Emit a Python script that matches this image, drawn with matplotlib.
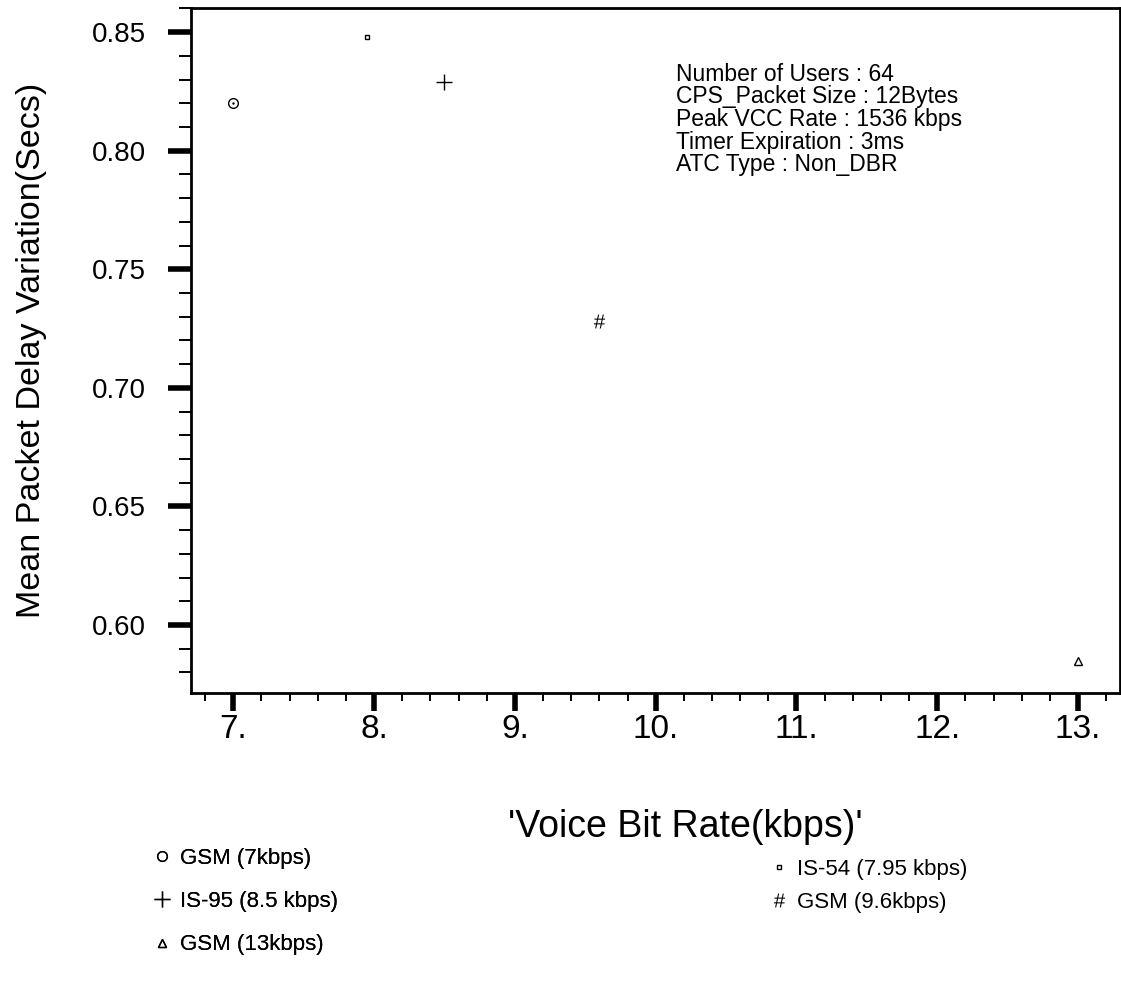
import matplotlib.pyplot as plt
from matplotlib.ticker import MultipleLocator, FormatStrFormatter

plt.rcParams['font.family'] = ['Liberation Sans', 'DejaVu Sans']
plt.rcParams['mathtext.fontset'] = 'custom'
plt.rcParams['mathtext.rm'] = 'Liberation Sans'

# codec data: voice bit rate (kbps) vs mean packet delay variation (secs)
labels = ["GSM (7kbps)", "IS-54 (7.95 kbps)", "IS-95 (8.5 kbps)", "GSM (9.6kbps)", "GSM (13kbps)"]
bit_rate = [7.0, 7.95, 8.5, 9.6, 13.0]
delay_var = [0.820, 0.848, 0.829, 0.728, 0.585]
markers = ["o", "s", "+", r"$\#$", "^"]
msizes = [7, 3.5, 11, 10, 6]

info = ["Number of Users : 64", "CPS_Packet Size : 12Bytes", "Peak VCC Rate : 1536 kbps",
        "Timer Expiration : 3ms", "ATC Type : Non_DBR"]

fig = plt.figure(figsize=(11.21, 9.88), dpi=100)
ax = fig.add_axes([0.1704, 0.2986, 0.8290, 0.6933])

handles = {}
for x, y, m, s, lab in zip(bit_rate, delay_var, markers, msizes, labels):
    if m.startswith("$"):
        h, = ax.plot([x], [y], linestyle="none", marker=m, markersize=s, color="black",
                     markeredgewidth=0, label=lab)
    else:
        h, = ax.plot([x], [y], linestyle="none", marker=m, markersize=s, color="black",
                     markerfacecolor="none", markeredgewidth=1.0, label=lab)
    handles[lab] = h
# centre dot for the circle marker
ax.plot([bit_rate[0]], [delay_var[0]], linestyle="none", marker=".", markersize=1.5, color="black")

ax.set_xlim(6.7, 13.3)
ax.set_ylim(0.5713, 0.8602)
ax.xaxis.set_major_locator(MultipleLocator(1))
ax.xaxis.set_minor_locator(MultipleLocator(0.2))
ax.yaxis.set_major_locator(MultipleLocator(0.05))
ax.yaxis.set_minor_locator(MultipleLocator(0.01))
ax.xaxis.set_major_formatter(FormatStrFormatter("%d."))
ax.yaxis.set_major_formatter(FormatStrFormatter("%.2f"))

ax.tick_params(axis="y", which="major", direction="out", length=16.5, width=4, labelsize=20, pad=16)
ax.tick_params(axis="y", which="minor", direction="out", length=8.6, width=1.4)
ax.tick_params(axis="x", which="major", direction="out", length=13, width=4, labelsize=24, pad=2)
ax.tick_params(axis="x", which="minor", direction="out", length=5.5, width=1.4)
for sp in ax.spines.values():
    sp.set_linewidth(2)

ax.set_xlabel("'Voice Bit Rate(kbps)'", fontsize=27)
ax.xaxis.set_label_coords(0.532, -0.170)
ax.set_ylabel("Mean Packet Delay Variation(Secs)", fontsize=24.5, labelpad=32)

ax.text(0.522, 0.920, "\n".join(info), transform=ax.transAxes, fontsize=16.5,
        va="top", ha="left", linespacing=0.98)

left_leg = fig.legend(handles=[handles[labels[0]], handles[labels[2]], handles[labels[4]]],
                      loc="upper left", bbox_to_anchor=(0.1205, 0.162), frameon=False,
                      fontsize=16, handlelength=0.6, handletextpad=0.5, labelspacing=1.0)
fig.add_artist(left_leg)
fig.legend(handles=[handles[labels[1]], handles[labels[3]]],
           loc="upper left", bbox_to_anchor=(0.671, 0.151), frameon=False,
           fontsize=16, handlelength=0.6, handletextpad=0.5, labelspacing=0.54)

fig.savefig("out.png", dpi=100)
